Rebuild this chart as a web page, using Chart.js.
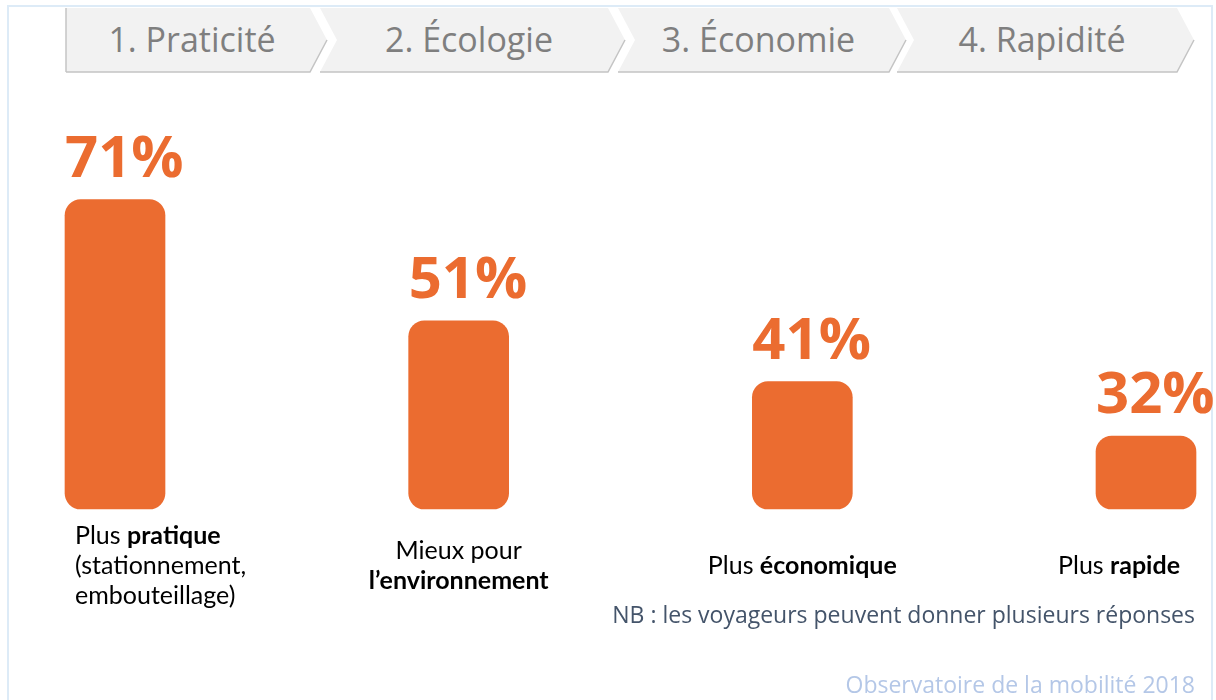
<!DOCTYPE html>
<html>
<head>
<meta charset="utf-8">
<script src="https://cdn.jsdelivr.net/npm/chart.js@4"></script>
<style>
  html, body { margin: 0; padding: 0; background: #fff; }
  #wrap { position: relative; width: 1216px; height: 700px; overflow: hidden; }
  #frame { position: absolute; left: 7px; top: 5px; width: 1206px; height: 720px; border: 2px solid #DDEBF7; box-sizing: border-box; }
  #head { position: absolute; left: 0; top: 0; }
  #chart { position: absolute; left: 0; top: 0; }
  .note { position: absolute; right: 21px; font-family: "Open Sans", sans-serif; white-space: nowrap; }
</style>
</head>
<body>
<div id="wrap">
  <div id="frame"></div>
  <svg id="head" width="1216" height="90"></svg>
  <canvas id="chart" width="1216" height="700"></canvas>
  <div class="note" style="top:598px;font-size:23px;color:#44546A;">NB : les voyageurs peuvent donner plusieurs réponses</div>
  <div class="note" style="top:668px;font-size:23px;color:#B4C7E7;">Observatoire de la mobilité 2018</div>
</div>
<script>
// data
const steps = ['1. Praticité', '2. Écologie', '3. Économie', '4. Rapidité'];
const categories = [
    ['Plus **pratique**', '(stationnement,', 'embouteillage)'],
    ['Mieux pour', '**l’environnement**'],
    ['Plus **économique**'],
    ['Plus **rapide**']
];
const shares = [71, 51, 41, 32];
const axisMin = 20;
const axisMax = 80;

const orange = '#EB6C30';

// chevron header
const head = document.getElementById('head');
const chev = [[66, 310], [320, 608], [618, 889], [897, 1177]];
const top0 = 8, bot0 = 72, mid0 = 40, tip = 17;
let svg = '';
chev.forEach(([l, r], i) => {
    const notch = i === 0 ? `${l},${mid0}` : `${l + tip},${mid0}`;
    const pts = `${l},${top0} ${r},${top0} ${r + tip},${mid0} ${r},${bot0} ${l},${bot0} ${notch}`;
    svg += `<polygon points="${pts}" fill="#F2F2F2"/>`;
    svg += `<polyline points="${r + tip},${mid0} ${r},${bot0} ${l},${bot0}" fill="none" stroke="#C4C4C4" stroke-width="1.5"/>`;
    if (i === 0) svg += `<line x1="${l}" y1="${top0}" x2="${l}" y2="${bot0}" stroke="#C4C4C4" stroke-width="1.5"/>`;
    const cx = (l + r) / 2 + (i === 0 ? 4 : 5);
    svg += `<text x="${cx}" y="${mid0 + 12}" text-anchor="middle" font-family="Open Sans" font-size="34" fill="#7F7F7F">${steps[i]}</text>`;
});
head.innerHTML = svg;

// plain-text / bold segments from **markup**
function segments(line) {
    return line.split('**').map((t, k) => ({ text: t, bold: k % 2 === 1 })).filter(s => s.text);
}

const labelPlugin = {
    id: 'labels',
    afterDatasetsDraw(chart) {
        const ctx = chart.ctx;
        const meta = chart.getDatasetMeta(0);
        ctx.save();
        // values above bars
        ctx.fillStyle = orange;
        ctx.font = 'bold 58px "Open Sans"';
        ctx.textBaseline = 'alphabetic';
        ctx.textAlign = 'left';
        meta.data.forEach((bar, i) => {
            ctx.fillText(shares[i] + '%', bar.x - 50, bar.y - 23);
        });
        // category labels under bars
        ctx.fillStyle = '#000';
        ctx.textBaseline = 'middle';
        const lh = 30, cy = 566;
        categories.forEach((lines, i) => {
            const x = chart.scales.x.getPixelForValue(i);
            const y0 = cy - (lines.length - 1) * lh / 2;
            lines.forEach((line, j) => {
                const segs = segments(line);
                let w = 0;
                segs.forEach(s => {
                    ctx.font = (s.bold ? 'bold ' : '') + '25px Lato';
                    s.w = ctx.measureText(s.text).width;
                    w += s.w;
                });
                let sx;
                if (i === 0) sx = x - 40;
                else sx = Math.min(x - w / 2, 1180 - w);
                segs.forEach(s => {
                    ctx.font = (s.bold ? 'bold ' : '') + '25px Lato';
                    ctx.fillText(s.text, sx, y0 + j * lh);
                    sx += s.w;
                });
            });
        });
        ctx.restore();
    }
};

new Chart(document.getElementById('chart'), {
    type: 'bar',
    data: {
        labels: categories.map(c => c.join(' ').replace(/\*\*/g, '')),
        datasets: [{
            data: shares,
            base: axisMin,
            backgroundColor: orange,
            borderRadius: 16,
            borderSkipped: false,
            barThickness: 100,
            clip: false
        }]
    },
    options: {
        responsive: false,
        animation: false,
        layout: { padding: { left: 115, right: 70, top: 145, bottom: 191 } },
        plugins: { legend: { display: false }, tooltip: { enabled: false } },
        scales: {
            x: { display: false, offset: false },
            y: { display: false, min: axisMin, max: axisMax }
        }
    },
    plugins: [labelPlugin]
});
</script>
</body>
</html>
